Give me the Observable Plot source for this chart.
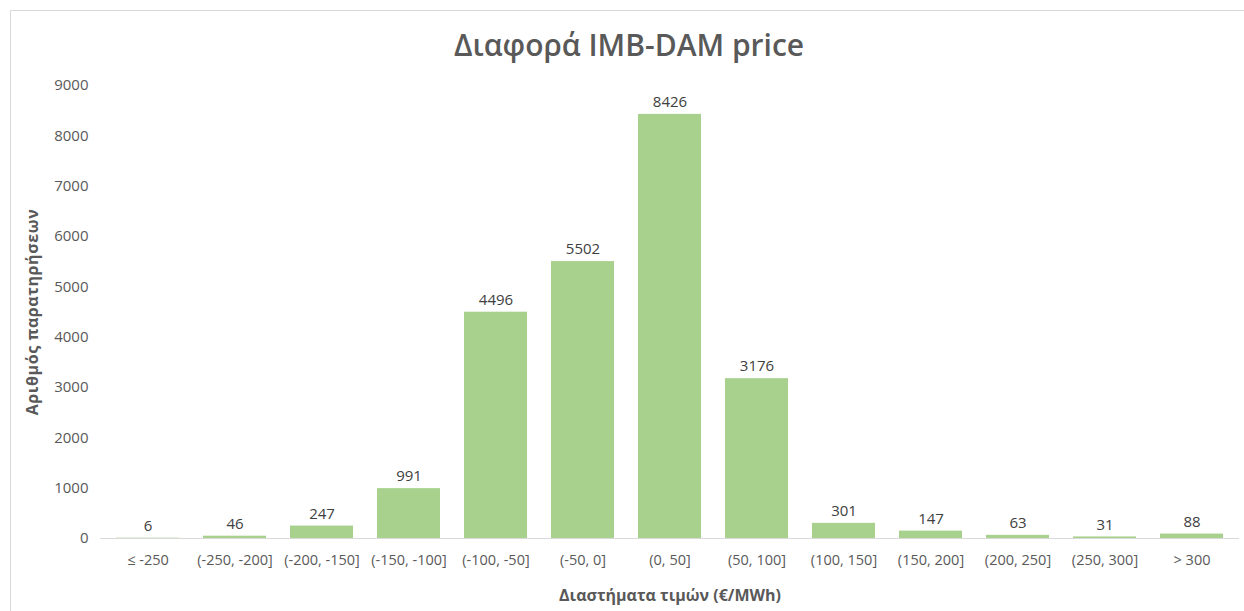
<!DOCTYPE html>
<html><head><meta charset="utf-8">
<script src="https://cdn.jsdelivr.net/npm/d3@7"></script>
<script src="https://cdn.jsdelivr.net/npm/@observablehq/plot@0.6"></script>
<style>
body{margin:0;background:#fff}
#wrap{position:relative;width:1244px;height:611px;font-family:"Open Sans",sans-serif;overflow:hidden}
#border{position:absolute;left:10px;top:10px;width:1240px;height:610px;border:1px solid #d9d9d9;box-sizing:border-box}
#title{position:absolute;left:0;width:1258px;top:24px;text-align:center;font-size:30px;font-weight:600;color:#595959}
#chart{position:absolute;left:0;top:0}
</style></head>
<body><div id="wrap"><div id="border"></div><div id="chart"></div><div id="title">Διαφορά IMB-DAM price</div></div>
<script>
const categories = ["≤ -250","(-250, -200]","(-200, -150]","(-150, -100]","(-100, -50]","(-50, 0]","(0, 50]","(50, 100]","(100, 150]","(150, 200]","(200, 250]","(250, 300]","> 300"];
const counts = [6,46,247,991,4496,5502,8426,3176,301,147,63,31,88];
const yTicks = [0,1000,2000,3000,4000,5000,6000,7000,8000,9000];
const data = categories.map((c,i)=>({cat:c, n:counts[i]}));

const chart = Plot.plot({
  width:1244, height:611,
  marginLeft:100, marginRight:5, marginTop:85, marginBottom:73,
  style:{fontFamily:"'Open Sans',sans-serif", fontSize:"14px", color:"#595959", background:"transparent"},
  x:{domain:categories, paddingInner:0.28, paddingOuter:0.14},
  y:{domain:[0,9000]},
  marks:[
    Plot.barY(data,{x:"cat", y:"n", fill:"#a9d18e"}),
    Plot.ruleY([0],{stroke:"#d9d9d9"}),
    Plot.ruleX([0],{frameAnchor:"left", stroke:"#d9d9d9", y1:0, y2:9000}),
    Plot.text(data,{x:"cat", y:"n", text:d=>String(d.n), dy:-12, fill:"#404040", fontSize:15}),
    Plot.axisY({ticks:yTicks, tickSize:0, tickPadding:12, tickFormat:d=>String(d), fontSize:15,
      label:"Αριθμός παρατηρήσεων", labelAnchor:"center", labelOffset:74, labelArrow:"none"}),
    Plot.axisX({tickSize:0, tickPadding:16, fontSize:14.5,
      label:"Διαστήματα τιμών (€/MWh)", labelAnchor:"center", labelOffset:62, labelArrow:"none"})
  ]
});
document.getElementById("chart").appendChild(chart);
chart.querySelectorAll('[aria-label="y-axis label"] text, [aria-label="x-axis label"] text').forEach(t=>{t.setAttribute("font-weight","bold");t.setAttribute("font-size","16");});
chart.querySelectorAll('[aria-label="y-axis label"] text').forEach(t=>{t.setAttribute("letter-spacing","0.6");});
</script>
</body></html>
